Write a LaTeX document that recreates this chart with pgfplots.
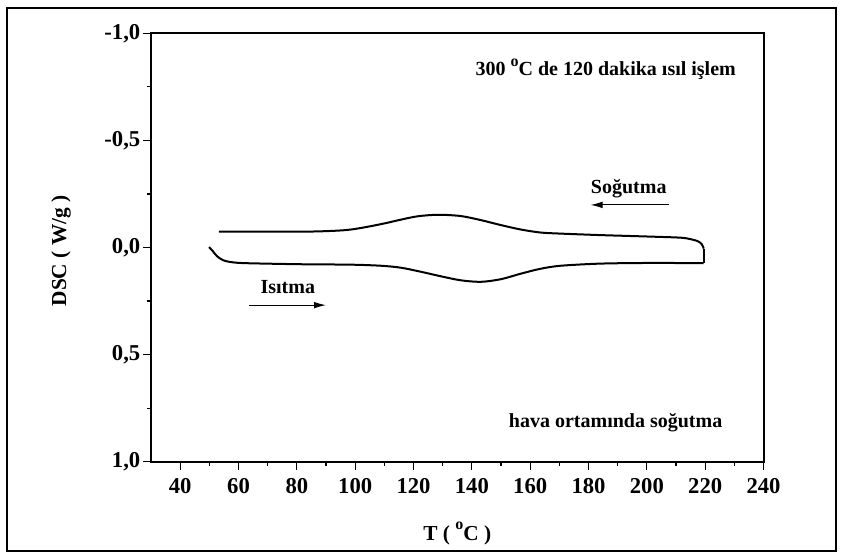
\documentclass[border=0pt]{standalone}
\usepackage{fontspec}
\setmainfont{Liberation Serif}
\usepackage{pgfplots}
\pgfplotsset{compat=1.18}
\usetikzlibrary{arrows.meta}
\newcommand{\degsup}[1]{\raisebox{#1}{\fontsize{12}{12}\selectfont\bfseries o}}
\begin{document}
\begin{tikzpicture}
\useasboundingbox (0pt,0pt) rectangle (633pt,417pt);
\draw[line width=1.5pt] (5.6pt,3.75pt) rectangle (627pt,411pt);
\begin{axis}[
  at={(113.25pt,70.7pt)}, anchor=south west,
  scale only axis, width=459.4pt, height=321.3pt,
  xmin=30, xmax=240, ymin=-1, ymax=1, y dir=reverse,
  axis line style={line width=1.5pt},
  xtick={40,60,80,100,120,140,160,180,200,220,240},
  xticklabels={40,60,80,100,120,140,160,180,200,220,240},
  ytick={-1,-0.5,0,0.5,1},
  yticklabels={{-1,0},{-0,5},{0,0},{0,5},{1,0}},
  minor x tick num=1, minor y tick num=1,
  tick pos=left, tick align=outside,
  major tick length=6pt, minor tick length=3pt,
  tick style={line width=0.9pt, black},
  ticklabel style={font=\fontsize{17}{19}\selectfont\bfseries},
  xticklabel style={yshift=-3pt},
  yticklabel style={xshift=1.5pt},
  xlabel={T ( \degsup{0.5em}C )},
  ylabel={DSC ( W/g )},
  label style={font=\fontsize{16}{18}\selectfont\bfseries},
  xlabel style={at={(axis description cs:0.5,-0.168)}, anchor=center},
  ylabel style={at={(axis description cs:-0.147,0.492)}, anchor=center, rotate=0},
  clip=false,
]
% heating
\addplot[black, line width=1.5pt, smooth, tension=0.5] coordinates {
(49.9,-0.002)(51.2,0.017)(52.6,0.040)(54.7,0.059)(57.4,0.068)(62.5,0.073)
(81.4,0.078)(98.5,0.080)(108.8,0.085)(115.6,0.094)(122.5,0.113)(129.3,0.134)
(136.2,0.153)(143.1,0.160)(149.9,0.148)(156.8,0.122)(163.6,0.099)(170.5,0.085)
(184.2,0.075)(201.3,0.072)(219.5,0.073)
};
\addplot[black, line width=1.5pt] coordinates {(219.5,0.073)(219.5,0.005)};
% cooling
\addplot[black, line width=1.5pt, smooth, tension=0.5] coordinates {
(219.5,0.005)(218.8,-0.016)(217.4,-0.030)(215.0,-0.039)(211.6,-0.046)
(201.3,-0.051)(184.2,-0.058)(170.5,-0.065)(163.6,-0.070)(156.8,-0.084)
(149.9,-0.105)(143.1,-0.128)(136.2,-0.147)(128.5,-0.153)(121.5,-0.146)
(115.6,-0.130)(110.5,-0.114)(104.3,-0.097)(98.5,-0.084)(92.7,-0.078)
(81.4,-0.074)(53.3,-0.074)
};
\node[font=\fontsize{15}{17}\selectfont\bfseries] at (axis cs:185.9,-0.83) {300 \degsup{0.45em}C de 120 dakika ısıl işlem};
\node[font=\fontsize{15}{17}\selectfont\bfseries] at (axis cs:193.8,-0.274) {Soğutma};
\draw[line width=0.8pt, -{Latex[length=9pt,width=5pt]}] (axis cs:207.5,-0.199) -- (axis cs:180.7,-0.199);
\node[font=\fontsize{15}{17}\selectfont\bfseries] at (axis cs:76.9,0.185) {Isıtma};
\draw[line width=0.8pt, -{Latex[length=9pt,width=5pt]}] (axis cs:63.6,0.269) -- (axis cs:90.0,0.269);
\node[font=\fontsize{15}{17}\selectfont\bfseries] at (axis cs:189.3,0.817) {hava ortamında soğutma};
\end{axis}
\end{tikzpicture}
\end{document}
